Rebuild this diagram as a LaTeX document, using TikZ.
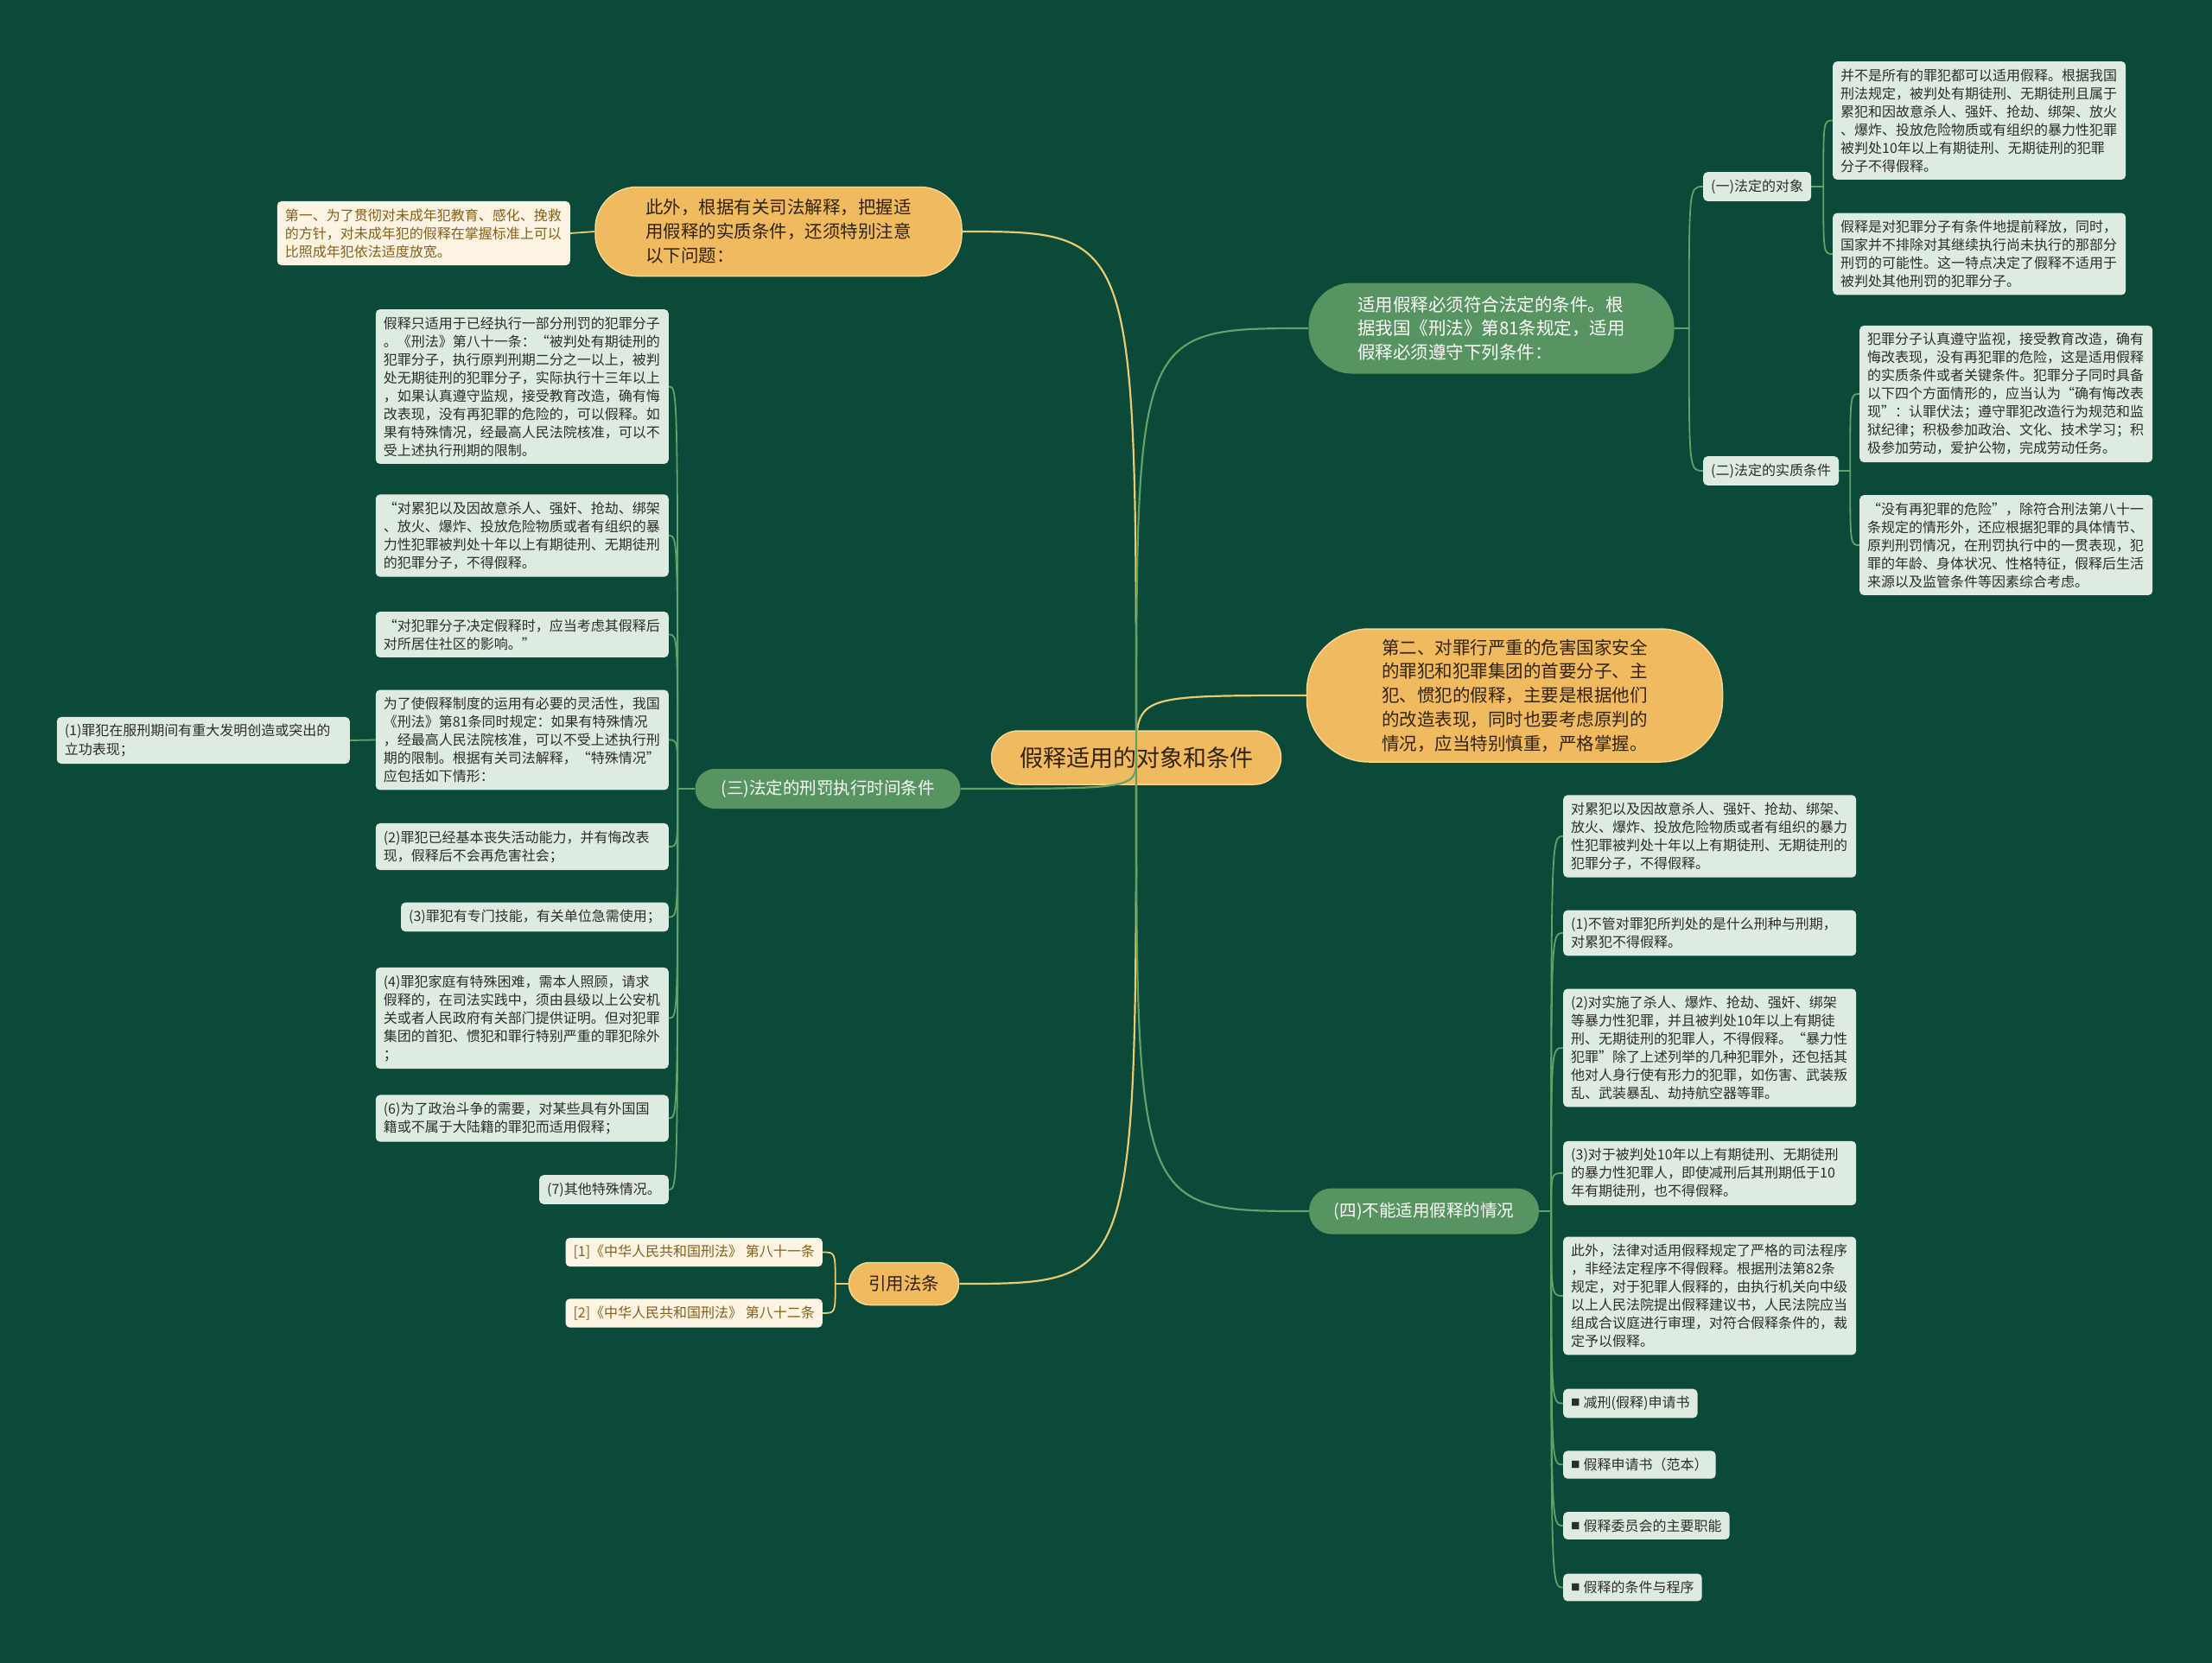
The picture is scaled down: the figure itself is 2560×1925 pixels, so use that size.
\documentclass[tikz,border=0pt]{standalone}
\usepackage{fontspec}
\setmainfont{Noto Sans CJK SC}
\usetikzlibrary{calc}
\definecolor{bgc}{RGB}{11,74,57}
\definecolor{org}{RGB}{240,186,96}
\definecolor{orgb}{RGB}{248,214,140}
\definecolor{orgt}{RGB}{51,36,12}
\definecolor{grn}{RGB}{88,148,97}
\definecolor{grnl}{RGB}{100,160,106}
\definecolor{yl}{RGB}{232,202,112}
\definecolor{notef}{RGB}{222,235,225}
\definecolor{notet}{RGB}{45,45,45}
\definecolor{creamf}{RGB}{253,244,228}
\definecolor{creamt}{RGB}{135,95,25}
\newcommand{\mysqbullet}{\raisebox{1.8pt}{\fontsize{10.5}{10.5}\selectfont ■}\hspace{4pt}}
\pgfdeclarelayer{bglayer}
\pgfdeclarelayer{rootlayer}
\pgfdeclarelayer{linelayer}
\pgfsetlayers{bglayer,rootlayer,linelayer,main}
\tikzset{
  notebox/.style={fill=notef, text=notet, rounded corners=5pt, inner xsep=9pt, inner ysep=8.5pt, font=\fontsize{16}{21}\selectfont, align=left},
  widebox/.style={text width=321pt},
  creambox/.style={notebox, fill=creamf, text=creamt},
  orgnode/.style={fill=org, draw=orgb, line width=1.5pt, text=orgt, align=left, inner sep=0pt},
  grnnode/.style={fill=grn, text=white, align=left, inner sep=0pt},
  bignode/.style={font=\fontsize{20.5}{27.8}\selectfont},
  yline/.style={draw=yl, line width=2.2pt},
  yline2/.style={draw=yl, line width=1.8pt},
  gline/.style={draw=grnl, line width=2.2pt},
  gline2/.style={draw=grnl, line width=1.8pt}
}
\begin{document}
\begin{tikzpicture}[x=1pt, y=-1pt]
\useasboundingbox (0,0) rectangle (2560,1925);
\begin{pgfonlayer}{bglayer}
\fill[bgc] (0,0) rectangle (2560,1925);
\end{pgfonlayer}
\begin{pgfonlayer}{rootlayer}
\node[orgnode, minimum width=335pt, minimum height=62pt, rounded corners=31pt, font=\fontsize{27}{32}\selectfont] (root) at (1315,877) {假释适用的对象和条件};
\end{pgfonlayer}

% ---- A branch (orange, top-left)
\node[orgnode, bignode, minimum width=424pt, minimum height=103pt, rounded corners=48pt] (A) at (901,268) {此外，根据有关司法解释，把握适\\用假释的实质条件，还须特别注意\\以下问题：};
\node[creambox, widebox, anchor=east] (Aa) at (660,270) {第一、为了贯彻对未成年犯教育、感化、挽救\\的方针，对未成年犯的假释在掌握标准上可以\\比照成年犯依法适度放宽。};

% ---- B branch (green, top-right)
\node[grnnode, bignode, minimum width=423pt, minimum height=105pt, rounded corners=50pt] (B) at (1726,380) {适用假释必须符合法定的条件。根\\据我国《刑法》第81条规定，适用\\假释必须遵守下列条件：};
\node[notebox, anchor=west] (B1) at (1971,216) {(一)法定的对象};
\node[notebox, anchor=west] (B2) at (1971,545) {(二)法定的实质条件};
\node[notebox, widebox, anchor=west] (B1a) at (2121,139.5) {并不是所有的罪犯都可以适用假释。根据我国\\刑法规定，被判处有期徒刑、无期徒刑且属于\\累犯和因故意杀人、强奸、抢劫、绑架、放火\\、爆炸、投放危险物质或有组织的暴力性犯罪\\被判处10年以上有期徒刑、无期徒刑的犯罪\\分子不得假释。};
\node[notebox, widebox, anchor=west] (B1b) at (2121,294) {假释是对犯罪分子有条件地提前释放，同时，\\国家并不排除对其继续执行尚未执行的那部分\\刑罚的可能性。这一特点决定了假释不适用于\\被判处其他刑罚的犯罪分子。};
\node[notebox, widebox, anchor=west] (B2a) at (2152,456) {犯罪分子认真遵守监视，接受教育改造，确有\\悔改表现，没有再犯罪的危险，这是适用假释\\的实质条件或者关键条件。犯罪分子同时具备\\以下四个方面情形的，应当认为“确有悔改表\\现”：认罪伏法；遵守罪犯改造行为规范和监\\狱纪律；积极参加政治、文化、技术学习；积\\极参加劳动，爱护公物，完成劳动任务。};
\node[notebox, widebox, anchor=west] (B2b) at (2152,631) {“没有再犯罪的危险”，除符合刑法第八十一\\条规定的情形外，还应根据犯罪的具体情节、\\原判刑罚情况，在刑罚执行中的一贯表现，犯\\罪的年龄、身体状况、性格特征，假释后生活\\来源以及监管条件等因素综合考虑。};

% ---- C branch (orange, right)
\node[orgnode, bignode, minimum width=481pt, minimum height=154pt, rounded corners=72pt] (C) at (1753,805) {第二、对罪行严重的危害国家安全\\的罪犯和犯罪集团的首要分子、主\\犯、惯犯的假释，主要是根据他们\\的改造表现，同时也要考虑原判的\\情况，应当特别慎重，严格掌握。};

% ---- D branch (green, bottom-right)
\node[grnnode, minimum width=266pt, minimum height=53pt, rounded corners=26pt, font=\fontsize{19.5}{24}\selectfont] (D) at (1648,1402) {(四)不能适用假释的情况};
\node[notebox, widebox, anchor=west] (D1) at (1809,968) {对累犯以及因故意杀人、强奸、抢劫、绑架、\\放火、爆炸、投放危险物质或者有组织的暴力\\性犯罪被判处十年以上有期徒刑、无期徒刑的\\犯罪分子，不得假释。};
\node[notebox, widebox, anchor=west] (D2) at (1809,1080) {(1)不管对罪犯所判处的是什么刑种与刑期，\\对累犯不得假释。};
\node[notebox, widebox, anchor=west] (D3) at (1809,1213) {(2)对实施了杀人、爆炸、抢劫、强奸、绑架\\等暴力性犯罪，并且被判处10年以上有期徒\\刑、无期徒刑的犯罪人，不得假释。“暴力性\\犯罪”除了上述列举的几种犯罪外，还包括其\\他对人身行使有形力的犯罪，如伤害、武装叛\\乱、武装暴乱、劫持航空器等罪。};
\node[notebox, widebox, anchor=west] (D4) at (1809,1358) {(3)对于被判处10年以上有期徒刑、无期徒刑\\的暴力性犯罪人，即使减刑后其刑期低于10\\年有期徒刑，也不得假释。};
\node[notebox, widebox, anchor=west] (D5) at (1809,1500) {此外，法律对适用假释规定了严格的司法程序\\，非经法定程序不得假释。根据刑法第82条\\规定，对于犯罪人假释的，由执行机关向中级\\以上人民法院提出假释建议书，人民法院应当\\组成合议庭进行审理，对符合假释条件的，裁\\定予以假释。};
\node[notebox, anchor=west] (D6) at (1809,1624.5) {\mysqbullet 减刑(假释)申请书};
\node[notebox, anchor=west] (D7) at (1809,1695.5) {\mysqbullet 假释申请书（范本）};
\node[notebox, anchor=west] (D8) at (1809,1766) {\mysqbullet 假释委员会的主要职能};
\node[notebox, anchor=west] (D9) at (1809,1837.5) {\mysqbullet 假释的条件与程序};

% ---- E branch (green, left)
\node[grnnode, minimum width=307pt, minimum height=46pt, rounded corners=23pt, font=\fontsize{19.5}{24}\selectfont] (E) at (958,913) {(三)法定的刑罚执行时间条件};
\node[notebox, widebox, anchor=east] (E1) at (774,447.5) {假释只适用于已经执行一部分刑罚的犯罪分子\\。《刑法》第八十一条：“被判处有期徒刑的\\犯罪分子，执行原判刑期二分之一以上，被判\\处无期徒刑的犯罪分子，实际执行十三年以上\\，如果认真遵守监规，接受教育改造，确有悔\\改表现，没有再犯罪的危险的，可以假释。如\\果有特殊情况，经最高人民法院核准，可以不\\受上述执行刑期的限制。};
\node[notebox, widebox, anchor=east] (E2) at (774,620) {“对累犯以及因故意杀人、强奸、抢劫、绑架\\、放火、爆炸、投放危险物质或者有组织的暴\\力性犯罪被判处十年以上有期徒刑、无期徒刑\\的犯罪分子，不得假释。};
\node[notebox, widebox, anchor=east] (E3) at (774,734.5) {“对犯罪分子决定假释时，应当考虑其假释后\\对所居住社区的影响。”};
\node[notebox, widebox, anchor=east] (E4) at (774,856.5) {为了使假释制度的运用有必要的灵活性，我国\\《刑法》第81条同时规定：如果有特殊情况\\，经最高人民法院核准，可以不受上述执行刑\\期的限制。根据有关司法解释，“特殊情况”\\应包括如下情形：};
\node[notebox, widebox, anchor=east] (E4a) at (405,857) {(1)罪犯在服刑期间有重大发明创造或突出的\\立功表现；};
\node[notebox, widebox, anchor=east] (E5) at (774,980) {(2)罪犯已经基本丧失活动能力，并有悔改表\\现，假释后不会再危害社会；};
\node[notebox, anchor=east] (E6) at (774,1061.5) {(3)罪犯有专门技能，有关单位急需使用；};
\node[notebox, widebox, anchor=east] (E7) at (774,1178.5) {(4)罪犯家庭有特殊困难，需本人照顾，请求\\假释的，在司法实践中，须由县级以上公安机\\关或者人民政府有关部门提供证明。但对犯罪\\集团的首犯、惯犯和罪行特别严重的罪犯除外\\；};
\node[notebox, widebox, anchor=east] (E8) at (774,1294.5) {(6)为了政治斗争的需要，对某些具有外国国\\籍或不属于大陆籍的罪犯而适用假释；};
\node[notebox, anchor=east] (E9) at (774,1377) {(7)其他特殊情况。};

% ---- F branch (orange, bottom-left)
\node[orgnode, minimum width=127pt, minimum height=49pt, rounded corners=24pt, font=\fontsize{20.5}{24}\selectfont] (F) at (1046,1486) {引用法条};
\node[creambox, anchor=east] (F1) at (952,1449.5) {[1]《中华人民共和国刑法》 第八十一条};
\node[creambox, anchor=east] (F2) at (952,1520) {[2]《中华人民共和国刑法》 第八十二条};

% ---- connectors
\begin{pgfonlayer}{linelayer}
\draw[yline] (root.center) .. controls (root.center |- A.east) .. (A.east);
\draw[yline] (root.center) .. controls (root.center |- C.west) .. (C.west);
\draw[yline] (root.center) .. controls (root.center |- F.east) .. (F.east);
\draw[gline] (root.center) .. controls (root.center |- B.west) .. (B.west);
\draw[gline] (root.center) .. controls (root.center |- D.west) .. (D.west);
\draw[gline] (root.center) .. controls (root.center |- E.east) .. (E.east);

\draw[yline2] (A.west) -- (Aa.east);

\coordinate (Bs) at ($(B.east)+(17,0)$);
\draw[gline2] (B.east) -- (Bs) .. controls (Bs |- B1.west) .. (B1.west);
\draw[gline2] (Bs) .. controls (Bs |- B2.west) .. (B2.west);

\coordinate (B1s) at ($(B1.east)+(14,0)$);
\draw[gline2] (B1.east) -- (B1s) .. controls (B1s |- B1a.west) .. (B1a.west);
\draw[gline2] (B1s) .. controls (B1s |- B1b.west) .. (B1b.west);

\coordinate (B2s) at ($(B2.east)+(13,0)$);
\draw[gline2] (B2.east) -- (B2s) .. controls (B2s |- B2a.west) .. (B2a.west);
\draw[gline2] (B2s) .. controls (B2s |- B2b.west) .. (B2b.west);

\coordinate (Ds) at ($(D.east)+(14,0)$);
\draw[gline2] (D.east) -- (Ds);
\foreach \n in {D1,D2,D3,D4,D5,D6,D7,D8,D9}
  \draw[gline2] (Ds) .. controls (Ds |- \n.west) .. (\n.west);

\coordinate (Es) at ($(E.west)+(-20,0)$);
\draw[gline2] (E.west) -- (Es);
\foreach \n in {E1,E2,E3,E4,E5,E6,E7,E8,E9}
  \draw[gline2] (Es) .. controls (Es |- \n.east) .. (\n.east);

\draw[gline2] (E4.west) -- (E4a.east);

\coordinate (Fs) at ($(F.west)+(-15,0)$);
\draw[yline2] (F.west) -- (Fs);
\draw[yline2] (Fs) .. controls (Fs |- F1.east) .. (F1.east);
\draw[yline2] (Fs) .. controls (Fs |- F2.east) .. (F2.east);
\end{pgfonlayer}
\end{tikzpicture}
\end{document}
